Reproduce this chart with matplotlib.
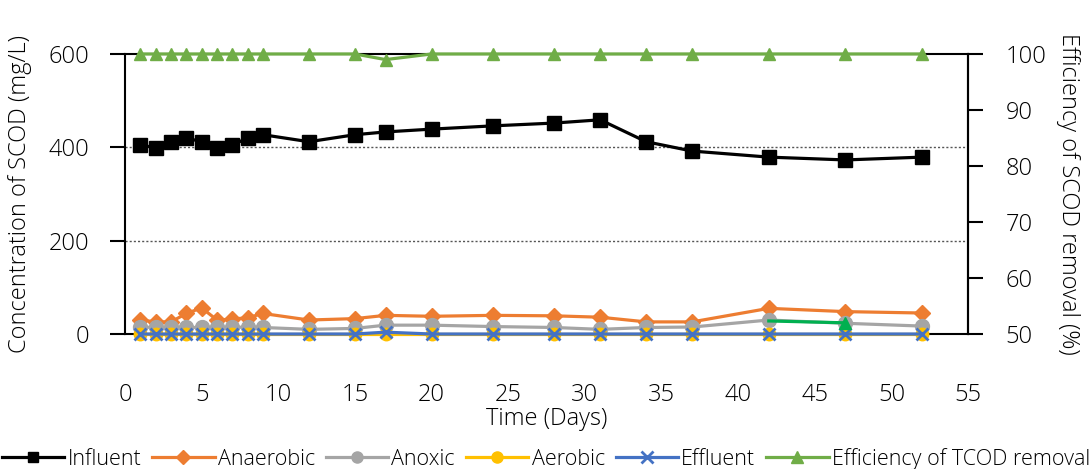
import matplotlib.pyplot as plt
from matplotlib.lines import Line2D

plt.rcParams['font.family'] = ['Open Sans', 'DejaVu Sans']
plt.rcParams['font.weight'] = 'light'
plt.rcParams['axes.labelweight'] = 'light'

# sampling days
days = [1, 2, 3, 4, 5, 6, 7, 8, 9, 12, 15, 17, 20, 24, 28, 31, 34, 37, 42, 47, 52]

# SCOD concentrations (mg/L)
influent = [405, 399, 412, 420, 412, 399, 405, 420, 427, 412, 427, 433, 439, 446,
            452, 459, 412, 392, 379, 373, 379]
anaerobic = [30, 26, 26, 44, 56, 30, 32, 35, 44, 30, 33, 40, 38, 40,
             39, 36, 26, 26, 55, 48, 45]
anoxic = [15, 14, 14, 14, 14, 14, 14, 15, 14, 10, 12, 19, 19, 16,
          14, 10, 14, 15, 30, 23, 17]
aerobic = [0] * len(days)
effluent = [0, 0, 0, 0, 0, 0, 0, 0, 0, 0, 0, 4, 0, 0, 0, 0, 0, 0, 0, 0, 0]

# removal efficiency (%)
efficiency = [100, 100, 100, 100, 100, 100, 100, 100, 100, 100, 100, 99, 100, 100,
              100, 100, 100, 100, 100, 100, 100]

# stray segment visible in the original chart
extra_days = [42, 47]
extra_vals = [28, 24]

fig = plt.figure(figsize=(10.92, 4.69), dpi=100)
ax = fig.add_axes([0.1145, 0.2878, 0.772, 0.5971])
ax2 = ax.twinx()

fs = 17
lw = 2.3

ax.plot(days, influent, color='black', lw=lw, marker='s', ms=9.5, clip_on=False, zorder=5)
ax.plot(days, anaerobic, color='#ED7D31', lw=lw, marker='D', ms=8.5, clip_on=False, zorder=5)
ax.plot(days, anoxic, color='#A5A5A5', lw=lw, marker='o', ms=10, clip_on=False, zorder=5)
ax.plot(days, aerobic, color='#FFC000', lw=lw, marker='o', ms=9, clip_on=False, zorder=5)
ax.plot(days, effluent, color='#4472C4', lw=lw, marker='x', ms=9, mew=2, clip_on=False, zorder=6)
ax.plot(extra_days, extra_vals, color='#00B050', lw=lw, clip_on=False, zorder=7)
ax.plot(extra_days[1:], extra_vals[1:], color='#00B050', lw=0, marker='^', ms=9, clip_on=False, zorder=7)

ax2.plot(days, efficiency, color='#70AD47', lw=lw, marker='^', ms=9, clip_on=False, zorder=5)

ax.set_xlim(0, 55)
ax.set_ylim(0, 600)
ax2.set_ylim(50, 100)
ax.set_xticks(range(0, 56, 5))
ax.set_yticks([0, 200, 400, 600])
ax2.set_yticks(range(50, 101, 10))

for y in [200, 400]:
    ax.axhline(y, color='#555555', lw=1, ls=(0, (1.5, 1.5)), zorder=1)

for s in ax.spines.values():
    s.set_linewidth(1.5)
    s.set_color('black')
for name, s in ax2.spines.items():
    s.set_visible(name == 'right')
    s.set_linewidth(1.5)
    s.set_color('black')

ax.tick_params(axis='x', length=0, pad=35, labelsize=fs)
ax.tick_params(axis='y', length=11, width=1.5, direction='out', labelsize=fs, pad=15)
ax2.tick_params(axis='y', length=11, width=1.5, direction='out', labelsize=fs, pad=16)

ax.set_xlabel('Time (Days)', fontsize=fs, labelpad=0)
ax.set_ylabel('Concentration of SCOD (mg/L)', fontsize=fs, labelpad=12)
ax2.set_ylabel('Efficiency of SCOD removal (%)', fontsize=fs, rotation=270, labelpad=24)

handles = [
    Line2D([], [], color='black', lw=lw, marker='s', ms=7),
    Line2D([], [], color='#ED7D31', lw=lw, marker='D', ms=7),
    Line2D([], [], color='#A5A5A5', lw=lw, marker='o', ms=8),
    Line2D([], [], color='#FFC000', lw=lw, marker='o', ms=8),
    Line2D([], [], color='#4472C4', lw=lw, marker='x', ms=8, mew=2),
    Line2D([], [], color='#70AD47', lw=lw, marker='^', ms=8),
]
labels = ['Influent', 'Anaerobic', 'Anoxic', 'Aerobic', 'Effluent', 'Efficiency of TCOD removal']
fig.legend(handles, labels, loc='center', bbox_to_anchor=(0.5, 0.022), ncol=6, frameon=False,
           fontsize=15.5, handlelength=2.9, handletextpad=0.15, columnspacing=0.5, borderaxespad=0)

fig.savefig('out.png', dpi=100)
